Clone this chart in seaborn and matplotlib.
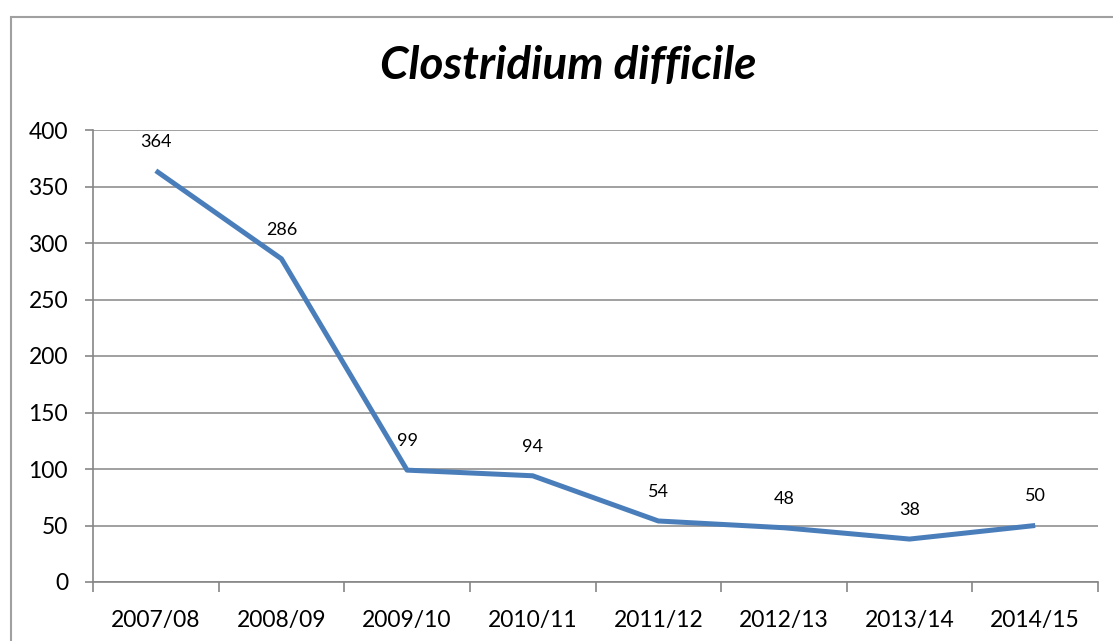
import matplotlib
matplotlib.use("Agg")
import matplotlib.pyplot as plt
import seaborn as sns
import pandas as pd
from matplotlib.patches import Rectangle
from matplotlib.ticker import FixedLocator

years = ["2007/08", "2008/09", "2009/10", "2010/11", "2011/12", "2012/13", "2013/14", "2014/15"]
cases = [364, 286, 99, 94, 54, 48, 38, 50]
title = "Clostridium difficile"

sns.set_theme(style="white")
plt.rcParams['font.family'] = ['Lato', 'DejaVu Sans']
plt.rcParams['text.color'] = 'black'
plt.rcParams['xtick.color'] = 'black'
plt.rcParams['ytick.color'] = 'black'

df = pd.DataFrame({"year": years, "cases": cases})
W, H = 1113, 641
fig = plt.figure(figsize=(W / 100, H / 100), dpi=100)
fig.patch.set_facecolor("white")

# outer chart border
fig.patches.append(Rectangle((11 / W, -0.1), 1.2, (641 - 17) / H + 0.1, transform=fig.transFigure,
                             fill=False, edgecolor="#a0a0a0", linewidth=1.5))

ax = fig.add_axes([93 / W, (641 - 582) / H, (1098 - 93) / W, (582 - 130) / H])
df["x"] = range(len(years))
sns.lineplot(data=df, x="x", y="cases", ax=ax, color="#4A7EBB", linewidth=3.6, solid_capstyle="butt")

ax.set_xlim(-0.5, len(years) - 0.5)
ax.set_ylim(0, 400)
ax.set_yticks(range(0, 401, 50))
ax.set_yticklabels([str(v) for v in range(0, 401, 50)], fontsize=16.5)
ax.set_xticks(range(len(years)))
ax.set_xticklabels(years, fontsize=16.5)
ax.xaxis.set_minor_locator(FixedLocator([i - 0.5 for i in range(len(years) + 1)]))
ax.tick_params(axis="x", which="major", length=0, pad=20, labelcolor="black")
ax.tick_params(axis="x", which="minor", length=7, width=1.2, color="#868686", direction="out", bottom=True)
ax.tick_params(axis="y", length=6, width=1.2, color="#868686", direction="out", left=True, pad=12, labelcolor="black")
ax.yaxis.grid(True, color="#868686", linewidth=1.1)
ax.xaxis.grid(False)
ax.set_axisbelow(True)
for s in ["top", "right"]:
    ax.spines[s].set_visible(False)
for s in ["left", "bottom"]:
    ax.spines[s].set_color("#868686")
    ax.spines[s].set_linewidth(1.2)
ax.set_xlabel("")
ax.set_ylabel("")

for i, v in enumerate(cases):
    ax.annotate(str(v), (i, v), xytext=(0, 21), textcoords="offset points",
                ha="center", va="center", fontsize=13, color="black")

fig.text(568 / W, 1 - 66 / H, title, ha="center", va="center", color="black",
         fontsize=33, fontweight="bold", fontstyle="italic")

fig.savefig("out.png", dpi=100, facecolor="white")
